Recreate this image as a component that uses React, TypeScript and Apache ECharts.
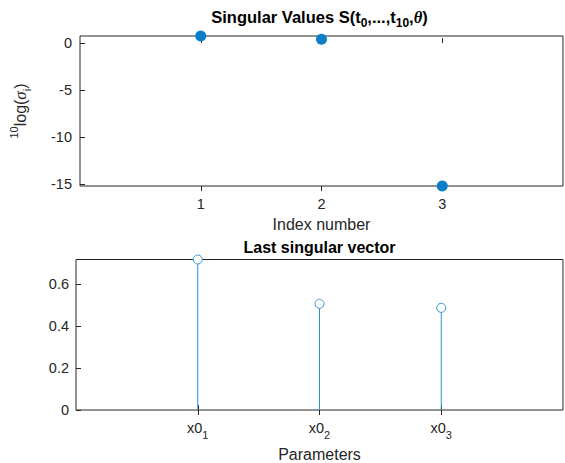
import React, { useEffect, useRef } from 'react';
import * as echarts from 'echarts';

const indexNumbers = [1, 2, 3];
const logSigma = [0.745, 0.41, -15.2];
const paramPositions = [1, 2, 3];
const paramNames = ['x0_1', 'x0_2', 'x0_3'];
const lastVector = [0.716, 0.505, 0.486];
const xTicks = [1, 2, 3];
const topYTicks = [-15, -10, -5, 0];
const bottomYTicks = [0, 0.2, 0.4, 0.6];

const FONT = '"Liberation Sans", Arial, Helvetica, sans-serif';
const SERIF = '"Liberation Serif", "DejaVu Serif", serif';
const AX = '#262626';
const BLUE = '#0a7ec6';
const STEM = '#2f93d4';

export default function App() {
  const ref = useRef<HTMLDivElement>(null);
  useEffect(() => {
    const chart = echarts.init(ref.current!, null, { renderer: 'svg' });
    const tickLabel = { color: AX, fontFamily: FONT, fontSize: 14.5 };
    const nameStyle = { color: AX, fontFamily: FONT, fontSize: 16 };
    const tick = (vals: number[]) => ({
      show: true,
      inside: true,
      length: 5,
      customValues: vals,
      lineStyle: { color: AX, width: 1 },
    });
    const subRich = {
      m: { fontFamily: FONT, fontSize: 14.5, color: AX, lineHeight: 24 },
      s: { fontFamily: FONT, fontSize: 11, color: AX, lineHeight: 12, verticalAlign: 'bottom' },
    };
    const option: any = {
      animation: false,
      backgroundColor: '#ffffff',
      grid: [
        { left: 76, right: 2, top: 36, height: 150, show: true, borderColor: AX, borderWidth: 1, backgroundColor: 'transparent' },
        { left: 76, right: 2, top: 259.5, height: 150.5, show: true, borderColor: AX, borderWidth: 1, backgroundColor: 'transparent' },
      ],
      xAxis: [
        {
          gridIndex: 0, type: 'value', min: 0, max: 4, position: 'bottom',
          axisLine: { show: false }, splitLine: { show: false },
          axisTick: tick(xTicks),
          axisLabel: { ...tickLabel, customValues: xTicks, margin: 10 },
          name: 'Index number', nameLocation: 'middle', nameGap: 30, nameTextStyle: nameStyle,
        },
        {
          gridIndex: 0, type: 'value', min: 0, max: 4, position: 'top',
          axisLine: { show: false }, splitLine: { show: false },
          axisTick: tick(xTicks), axisLabel: { show: false },
        },
        {
          gridIndex: 1, type: 'value', min: 0, max: 4, position: 'bottom',
          axisLine: { show: false }, splitLine: { show: false },
          axisTick: tick(paramPositions),
          axisLabel: {
            customValues: paramPositions, margin: 6,
            formatter: (v: number) => {
              const i = paramPositions.indexOf(v);
              const [base, sub] = paramNames[i].split('_');
              return `{m|${base}}{s|${sub}}`;
            },
            rich: subRich,
          },
          name: 'Parameters', nameLocation: 'middle', nameGap: 36, nameTextStyle: nameStyle,
        },
        {
          gridIndex: 1, type: 'value', min: 0, max: 4, position: 'top',
          axisLine: { show: false }, splitLine: { show: false },
          axisTick: tick(paramPositions), axisLabel: { show: false },
        },
      ],
      yAxis: [
        {
          gridIndex: 0, type: 'value', min: 'dataMin', max: 'dataMax', position: 'left',
          axisLine: { show: false }, splitLine: { show: false },
          axisTick: tick(topYTicks),
          axisLabel: { ...tickLabel, customValues: topYTicks, margin: 8 },
          name: '{sup|10}{t|log(}{it|σ}{sub|i}{t|)}',
          nameLocation: 'middle', nameGap: 48, nameRotate: 90,
          nameTextStyle: {
            rich: {
              t: { fontFamily: FONT, fontSize: 16, color: AX, lineHeight: 24 },
              it: { fontFamily: SERIF, fontStyle: 'italic', fontSize: 17, color: AX, lineHeight: 24 },
              sup: { fontFamily: FONT, fontSize: 11, color: AX, lineHeight: 12, verticalAlign: 'top' },
              sub: { fontFamily: FONT, fontSize: 11, color: AX, lineHeight: 12, verticalAlign: 'bottom' },
            },
          },
        },
        {
          gridIndex: 0, type: 'value', min: 'dataMin', max: 'dataMax', position: 'right',
          axisLine: { show: false }, splitLine: { show: false },
          axisTick: tick(topYTicks), axisLabel: { show: false },
        },
        {
          gridIndex: 1, type: 'value', min: 0, max: 'dataMax', position: 'left',
          axisLine: { show: false }, splitLine: { show: false },
          axisTick: tick(bottomYTicks),
          axisLabel: { ...tickLabel, customValues: bottomYTicks, margin: 7 },
        },
        {
          gridIndex: 1, type: 'value', min: 0, max: 'dataMax', position: 'right',
          axisLine: { show: false }, splitLine: { show: false },
          axisTick: tick(bottomYTicks), axisLabel: { show: false },
        },
      ],
      graphic: [
        {
          type: 'text', x: 319.5, y: 17, z: 100,
          style: {
            text: '{b|Singular Values S(t}{s|0}{b|,...,t}{s|10}{b|,}{th|θ}{b|)}',
            align: 'center', verticalAlign: 'middle',
            rich: {
              b: { fontFamily: FONT, fontSize: 16.5, fontWeight: 'bold', fill: '#000', lineHeight: 24 },
              s: { fontFamily: FONT, fontSize: 12, fontWeight: 'bold', fill: '#000', lineHeight: 12, verticalAlign: 'bottom' },
              th: { fontFamily: SERIF, fontSize: 16.5, fontWeight: 'bold', fontStyle: 'italic', fill: '#000', lineHeight: 24 },
            },
          },
        },
        {
          type: 'text', x: 319.5, y: 247, z: 100,
          style: {
            text: 'Last singular vector',
            align: 'center', verticalAlign: 'middle',
            fontFamily: FONT, fontSize: 16, fontWeight: 'bold', fill: '#000',
          },
        },
      ],
      series: [
        {
          type: 'scatter', xAxisIndex: 0, yAxisIndex: 0, clip: false,
          data: indexNumbers.map((x, i) => [x, logSigma[i]]),
          symbol: 'circle', symbolSize: 11,
          itemStyle: { color: BLUE, opacity: 1 },
          z: 5,
        },
        {
          type: 'bar', xAxisIndex: 2, yAxisIndex: 2,
          data: paramPositions.map((x, i) => [x, lastVector[i]]),
          barWidth: 1,
          itemStyle: { color: STEM, opacity: 1 },
          z: 4,
        },
        {
          type: 'scatter', xAxisIndex: 2, yAxisIndex: 2, clip: false,
          data: paramPositions.map((x, i) => [x, lastVector[i]]),
          symbol: 'circle', symbolSize: 9,
          itemStyle: { color: '#ffffff', borderColor: STEM, borderWidth: 1, opacity: 1 },
          z: 5,
        },
      ],
    };
    chart.setOption(option);
    return () => chart.dispose();
  }, []);
  return (
    <div
      ref={ref}
      style={{ position: 'fixed', left: 0, top: 0, width: 565, height: 463, background: '#fff' }}
    />
  );
}
